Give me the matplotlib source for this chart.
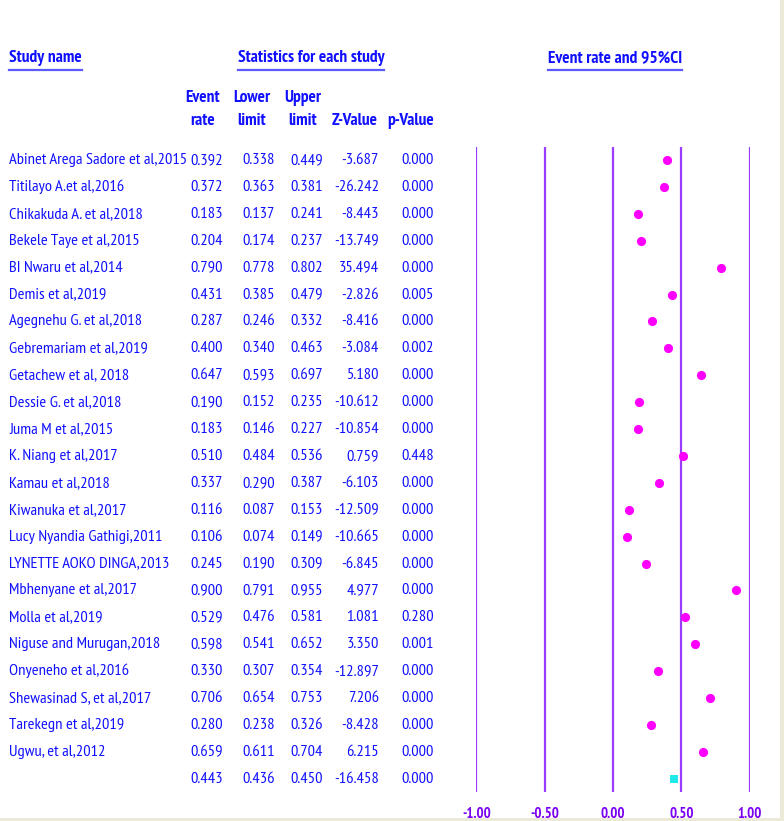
import matplotlib
matplotlib.use("Agg")
import matplotlib.pyplot as plt
from matplotlib.lines import Line2D
from matplotlib.patches import Rectangle
from matplotlib import font_manager as fm

studies = [
    "Abinet Arega Sadore et al,2015", "Titilayo A.et al,2016", "Chikakuda A. et al,2018",
    "Bekele Taye et al,2015", "BI Nwaru et al,2014", "Demis et al,2019",
    "Agegnehu G. et al,2018", "Gebremariam et al,2019", "Getachew et al, 2018",
    "Dessie G. et al,2018", "Juma M et al,2015", "K. Niang et al,2017",
    "Kamau et al,2018", "Kiwanuka et al,2017", "Lucy Nyandia Gathigi,2011",
    "LYNETTE AOKO DINGA,2013", "Mbhenyane et al,2017", "Molla et al,2019",
    "Niguse and Murugan,2018", "Onyeneho et al,2016", "Shewasinad S, et al,2017",
    "Tarekegn et al,2019", "Ugwu, et al,2012", "",
]
event_rate = [0.392, 0.372, 0.183, 0.204, 0.790, 0.431, 0.287, 0.400, 0.647, 0.190, 0.183, 0.510,
              0.337, 0.116, 0.106, 0.245, 0.900, 0.529, 0.598, 0.330, 0.706, 0.280, 0.659, 0.443]
lower = [0.338, 0.363, 0.137, 0.174, 0.778, 0.385, 0.246, 0.340, 0.593, 0.152, 0.146, 0.484,
         0.290, 0.087, 0.074, 0.190, 0.791, 0.476, 0.541, 0.307, 0.654, 0.238, 0.611, 0.436]
upper = [0.449, 0.381, 0.241, 0.237, 0.802, 0.479, 0.332, 0.463, 0.697, 0.235, 0.227, 0.536,
         0.387, 0.153, 0.149, 0.309, 0.955, 0.581, 0.652, 0.354, 0.753, 0.326, 0.704, 0.450]
z_value = [-3.687, -26.242, -8.443, -13.749, 35.494, -2.826, -8.416, -3.084, 5.180, -10.612,
           -10.854, 0.759, -6.103, -12.509, -10.665, -6.845, 4.977, 1.081, 3.350, -12.897,
           7.206, -8.428, 6.215, -16.458]
p_value = [0.000, 0.000, 0.000, 0.000, 0.000, 0.005, 0.000, 0.002, 0.000, 0.000, 0.000, 0.448,
           0.000, 0.000, 0.000, 0.000, 0.000, 0.280, 0.001, 0.000, 0.000, 0.000, 0.000, 0.000]
x_ticks = [-1.00, -0.50, 0.00, 0.50, 1.00]
x_tick_labels = ["-1.00", "-0.50", "0.00", "0.50", "1.00"]
col_headers = ["Event\nrate", "Lower\nlimit", "Upper\nlimit", "Z-Value", "p-Value"]

W, H = 784, 821

# ---- font choice (condensed sans, like Arial Narrow), with fallbacks ----
prefs = ["Liberation Sans Narrow", "PT Sans Narrow", "Roboto Condensed", "Arimo Narrow",
         "Archivo Narrow", "Fira Sans Condensed", "Asap Condensed", "Liberation Sans", "DejaVu Sans"]
reg_names, bold_names = set(), set()
for f in fm.fontManager.ttflist:
    w = f.weight if isinstance(f.weight, int) else (700 if "bold" in str(f.weight) else 400)
    if w >= 700:
        bold_names.add(f.name)
    if 350 <= w <= 450:
        reg_names.add(f.name)
REG = next(p for p in prefs if p in reg_names or p == "DejaVu Sans")
BOLD = next(p for p in prefs if p in bold_names or p == "DejaVu Sans")
FAM = [REG, "DejaVu Sans"]
FAMB = [BOLD, "DejaVu Sans"]

BLUE = "#1010FF"
PURPLE = "#7A00F5"
LINE = "#9B3DFF"

fig = plt.figure(figsize=(W / 100, H / 100), dpi=100, facecolor="#ECE9D8")
fig.patches.append(Rectangle((0, 0), 780 / W, 1, transform=fig.transFigure, facecolor="white",
                             edgecolor="none", zorder=-10))
fig.patches.append(Rectangle((0, 0), 1, 3 / H, transform=fig.transFigure, facecolor="#ECE9D8",
                             edgecolor="none", zorder=-9))
renderer = fig.canvas.get_renderer()


def fit_size(s, fam, weight, target_px, base=10.0):
    t = fig.text(0, 0, s, fontsize=base, family=fam, fontweight=weight)
    w = t.get_window_extent(renderer=renderer).width
    t.remove()
    return base * target_px / w


fs = fit_size("Abinet Arega Sadore et al,2015", FAM, "normal", 178)
fsb = fit_size("Statistics for each study", FAMB, "bold", 148)
fst = fit_size("-1.00", FAMB, "bold", 29)

row0, dy = 160.0, 26.9
tax = fig.add_axes([0, 0, 1, 1])
tax.set_xlim(0, W)
tax.set_ylim((H - row0) / dy, -row0 / dy)
tax.axis("off")
tax.patch.set_alpha(0)

n = len(studies)
col_right = [223, 275, 323, 379, 434]
for i in range(n):
    tax.text(9, i, studies[i], ha="left", va="center", fontsize=fs, color=BLUE, family=FAM)
    vals = [f"{event_rate[i]:.3f}", f"{lower[i]:.3f}", f"{upper[i]:.3f}", f"{z_value[i]:.3f}",
            f"{p_value[i]:.3f}"]
    for xr, v in zip(col_right, vals):
        tax.text(xr, i, v, ha="right", va="center", fontsize=fs, color=BLUE, family=FAM)

hdr_centers = [203, 252, 303, 355, 411]
for xc, h in zip(hdr_centers, col_headers):
    lines = h.split("\n")
    if len(lines) == 2:
        tax.text(xc, (98 - row0) / dy, lines[0], ha="center", va="center", fontsize=fsb,
                 color=BLUE, family=FAMB, fontweight="bold")
        tax.text(xc, (121 - row0) / dy, lines[1], ha="center", va="center", fontsize=fsb,
                 color=BLUE, family=FAMB, fontweight="bold")
    else:
        tax.text(xc, (121 - row0) / dy, lines[0], ha="center", va="center", fontsize=fsb,
                 color=BLUE, family=FAMB, fontweight="bold")

titles = [
    tax.text(9, (58 - row0) / dy, "Study name", ha="left", va="center", fontsize=fsb,
             color=BLUE, family=FAMB, fontweight="bold"),
    tax.text(311, (58 - row0) / dy, "Statistics for each study", ha="center", va="center",
             fontsize=fsb, color=BLUE, family=FAMB, fontweight="bold"),
    tax.text(615, (58 - row0) / dy, "Event rate and 95%CI", ha="center", va="center",
             fontsize=fsb, color=BLUE, family=FAMB, fontweight="bold"),
]

# ---- forest axes ----
x_lo_px, x_hi_px = 476.3, 749.7
r_top, r_bot = -0.5, n - 0.5
y_top_px = row0 + dy * r_top
y_bot_px = row0 + dy * r_bot
ax = fig.add_axes([x_lo_px / W, (H - y_bot_px) / H, (x_hi_px - x_lo_px) / W,
                   (y_bot_px - y_top_px) / H])
ax.set_xlim(x_ticks[0], x_ticks[-1])
ax.set_ylim(r_bot, r_top)
ax.patch.set_alpha(0)
for s in ax.spines.values():
    s.set_visible(False)
for t in x_ticks:
    ax.axvline(t, color=LINE, lw=1.6, zorder=1)
ax.set_xticks(x_ticks)
ax.set_xticklabels(x_tick_labels)
ax.tick_params(axis="x", length=0, pad=10.5, labelcolor=PURPLE)
for lab in ax.get_xticklabels():
    lab.set_fontfamily(FAMB)
    lab.set_fontweight("bold")
    lab.set_fontsize(fst)
ax.set_yticks([])
rows = list(range(n - 1))
ax.plot(event_rate[:-1], rows, linestyle="none", marker="o", ms=6.6, color="#FF00FF",
        markeredgewidth=0, zorder=3)
ax.plot([event_rate[-1]], [n - 1], linestyle="none", marker="s", ms=5.5, color="#20E8E8",
        markeredgewidth=0, zorder=3)

# ---- underlines under the three titles ----
fig.canvas.draw()
r = fig.canvas.get_renderer()
for t in titles:
    bb = t.get_window_extent(renderer=r)
    yu = (H - 70) / H
    fig.add_artist(Line2D([bb.x0 / W, bb.x1 / W], [yu, yu], transform=fig.transFigure,
                          color="#5A5AFF", lw=1.6))

fig.savefig("out.png", dpi=100, facecolor=fig.get_facecolor())
